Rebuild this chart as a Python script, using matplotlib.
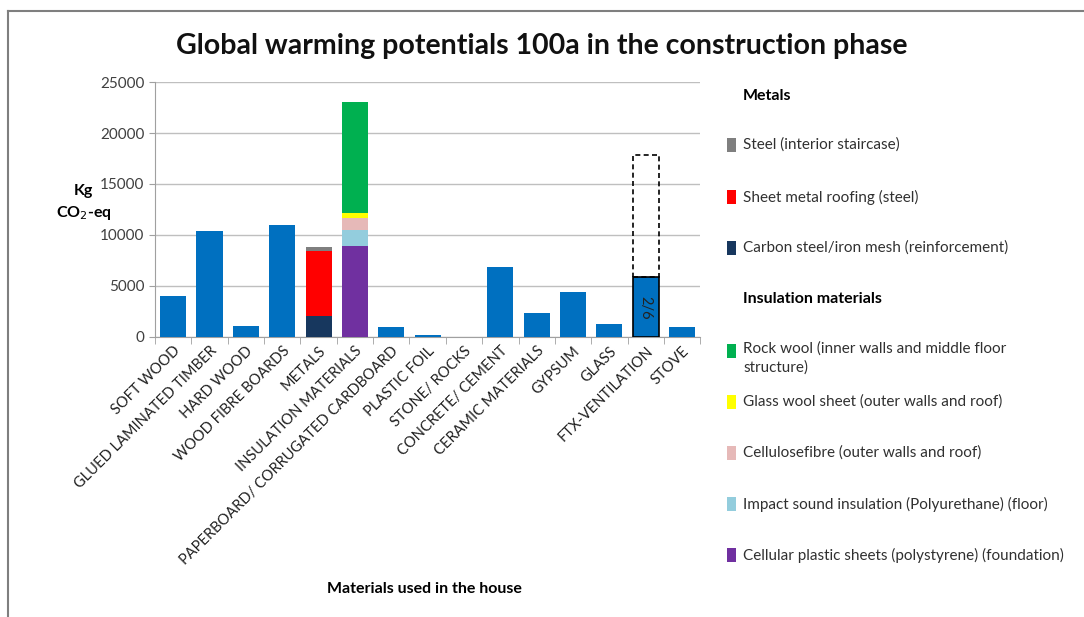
import matplotlib
matplotlib.use("Agg")
import matplotlib.pyplot as plt
from matplotlib.patches import Rectangle
from matplotlib.lines import Line2D
import numpy as np

plt.rcParams['font.family'] = ['Lato', 'DejaVu Sans']

categories = ["SOFT WOOD", "GLUED LAMINATED TIMBER", "HARD WOOD", "WOOD FIBRE BOARDS",
              "METALS", "INSULATION MATERIALS", "PAPERBOARD/ CORRUGATED CARDBOARD",
              "PLASTIC FOIL", "STONE/ ROCKS", "CONCRETE/ CEMENT", "CERAMIC MATERIALS",
              "GYPSUM", "GLASS", "FTX-VENTILATION", "STOVE"]
# single-material values (kg CO2-eq); stacked categories are 0 here
main_values = [4000, 10400, 1050, 11000, 0, 0, 950, 150, 0, 6850, 2350, 4450, 1250, 5900, 950]

metals_labels = ["Carbon steel/iron mesh (reinforcement)", "Sheet metal roofing (steel)",
                 "Steel (interior staircase)"]
metals_values = [2050, 6350, 450]
metals_colors = ["#17375E", "#FF0000", "#7F7F7F"]

insul_labels = ["Cellular plastic sheets (polystyrene) (foundation)",
                "Impact sound insulation (Polyurethane) (floor)",
                "Cellulosefibre (outer walls and roof)",
                "Glass wool sheet (outer walls and roof)",
                "Rock wool (inner walls and middle floor\nstructure)"]
insul_values = [8900, 1550, 1200, 500, 10880]
insul_colors = ["#7030A0", "#93CDDD", "#E6B9B8", "#FFFF00", "#00B050"]

ftx_full = 17800
ftx_label = "2/6"

fig = plt.figure(figsize=(10.84, 6.17), dpi=100)
ax = fig.add_axes([0.143, 0.454, 0.503, 0.413])

x = np.arange(len(categories))
w = 0.72
blue = "#0070C0"
bars = ax.bar(x, main_values, width=w, color=blue, zorder=3)

mi = categories.index("METALS")
bottom = 0
for v, c in zip(metals_values, metals_colors):
    ax.bar(mi, v, bottom=bottom, width=w, color=c, zorder=3)
    bottom += v

ii = categories.index("INSULATION MATERIALS")
bottom = 0
for v, c in zip(insul_values, insul_colors):
    ax.bar(ii, v, bottom=bottom, width=w, color=c, zorder=3)
    bottom += v

fi = categories.index("FTX-VENTILATION")
bars[fi].set_edgecolor("black")
bars[fi].set_linewidth(1.2)
ax.bar(fi, ftx_full - main_values[fi], bottom=main_values[fi], width=w, fill=False,
       edgecolor="black", linestyle=(0, (3, 2)), linewidth=1.2, zorder=3)
ax.text(fi, 2900, ftx_label, rotation=-90, ha="center", va="center", fontsize=10.5, color="#222222", zorder=4)

ax.set_ylim(0, 25000)
ax.set_xlim(-0.5, len(categories) - 0.5)
ax.set_yticks(np.arange(0, 25001, 5000))
ax.yaxis.grid(True, color="#BFBFBF", linewidth=1, zorder=0)
ax.tick_params(axis="y", labelsize=11, colors="#404040", length=4, color="#A0A0A0")
for sp in ["top", "right"]:
    ax.spines[sp].set_visible(False)
ax.spines["left"].set_color("#A0A0A0")
ax.spines["bottom"].set_color("#A0A0A0")

ax.set_xticks(x)
ax.set_xticklabels(categories, rotation=45, ha="right", rotation_mode="anchor", fontsize=10.5, color="#202020")
ax.tick_params(axis="x", length=0, pad=5)
ax.set_xticks(np.arange(-0.5, len(categories), 1), minor=True)
ax.tick_params(axis="x", which="minor", length=5, color="#A0A0A0")

fig.text(0.5, 0.926, "Global warming potentials 100a in the construction phase", ha="center", va="center",
         fontsize=20.5, fontweight="bold", color="#111111")
fig.text(0.077, 0.69, "Kg", ha="center", va="center", fontsize=11.5, fontweight="bold")
fig.text(0.077, 0.655, "CO$_2$-eq", ha="center", va="center", fontsize=11.5, fontweight="bold")
fig.text(0.392, 0.045, "Materials used in the house", ha="center", va="center", fontsize=11.5, fontweight="bold")

# legend
def ly(p):
    return 1 - p / 617.0
lx_patch = 727 / 1084.0
lx_text = 743 / 1084.0
fig.text(lx_text, ly(96), "Metals", fontsize=11.5, fontweight="bold", va="center")
legend_rows = [(metals_labels[2], metals_colors[2], 145),
               (metals_labels[1], metals_colors[1], 197),
               (metals_labels[0], metals_colors[0], 248)]
fig.text(lx_text, ly(299), "Insulation materials", fontsize=11.5, fontweight="bold", va="center")
legend_rows += [(insul_labels[4], insul_colors[4], 351),
                (insul_labels[3], insul_colors[3], 402),
                (insul_labels[2], insul_colors[2], 453),
                (insul_labels[1], insul_colors[1], 504),
                (insul_labels[0], insul_colors[0], 555)]
for lab, col, yy in legend_rows:
    fig.patches.append(Rectangle((lx_patch, ly(yy) - 0.012), 9 / 1084.0, 0.024, transform=fig.transFigure,
                                 facecolor=col, edgecolor="none"))
    if "\n" in lab:
        fig.text(lx_text, ly(yy) + 0.016, lab, fontsize=11, va="top", color="#303030", linespacing=1.4)
    else:
        fig.text(lx_text, ly(yy), lab, fontsize=11, va="center", color="#303030")

# outer frame (top and left edges)
fig.add_artist(Line2D([8 / 1084, 1], [ly(11), ly(11)], transform=fig.transFigure, color="#7F7F7F", linewidth=1.5))
fig.add_artist(Line2D([8 / 1084, 8 / 1084], [0, ly(11)], transform=fig.transFigure, color="#7F7F7F", linewidth=1.5))

fig.savefig("out.png", dpi=100)
